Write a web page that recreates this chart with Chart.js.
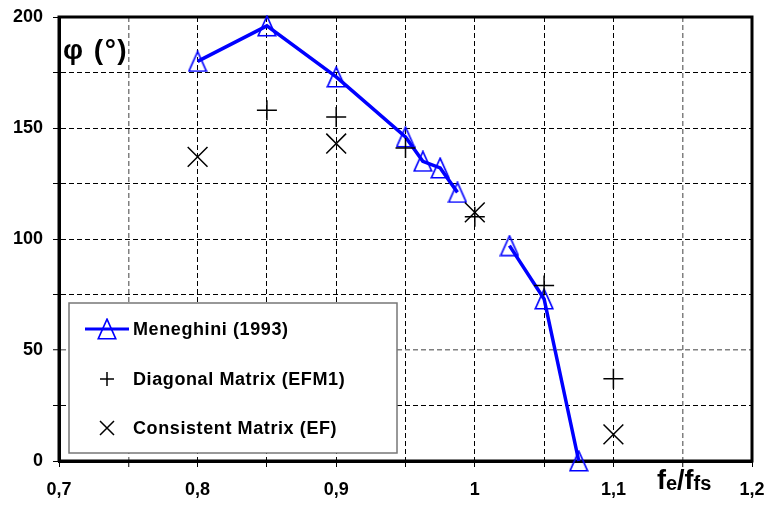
<!DOCTYPE html>
<html>
<head>
<meta charset="utf-8">
<script src="https://cdn.jsdelivr.net/npm/chart.js@4.4.1/dist/chart.umd.min.js"></script>
<style>
  html, body { margin: 0; padding: 0; background: #fff; }
  #wrap { width: 769px; height: 507px; position: relative; }
</style>
</head>
<body>
<div id="wrap"><canvas id="c" width="769" height="507"></canvas></div>
<script>
// ---- data ----
const meneghiniX = [0.8, 0.85, 0.9, 0.95, 0.9625, 0.975, 0.9875, 1.0, 1.025, 1.05, 1.075];
const meneghiniY = [180, 196, 173, 146, 135, 132, 121, null, 97, 73, 0];
const diagonalX = [0.85, 0.9, 0.95, 1.0, 1.05, 1.1];
const diagonalY = [158, 155, 141, 110, 79, 37];
const consistentX = [0.8, 0.9, 1.0, 1.1];
const consistentY = [137, 143, 112, 12];
const xTickLabels = ['0,7', '0,8', '0,9', '1', '1,1', '1,2'];
const yTickLabels = ['0', '50', '100', '150', '200'];
const seriesNames = ['Meneghini (1993)', 'Diagonal Matrix (EFM1)', 'Consistent Matrix (EF)'];

const FONT = '"Liberation Sans", Arial, Helvetica, sans-serif';
const BLUE = '#0000ff';

// triangle marker image
function makeTriangle() {
  const c = document.createElement('canvas');
  c.width = 20; c.height = 22;
  const g = c.getContext('2d');
  g.strokeStyle = BLUE; g.lineWidth = 1.6; g.lineJoin = 'miter';
  g.beginPath();
  g.moveTo(10, 1.2); g.lineTo(18.8, 20.8); g.lineTo(1.2, 20.8); g.closePath();
  g.stroke();
  return c;
}
const tri = makeTriangle();

function pts(xs, ys) { return xs.map((x, i) => ({ x: x, y: ys[i] })); }

const framePlugin = {
  id: 'frame',
  beforeDatasetsDraw(chart) {
    const { ctx, chartArea: a } = chart;
    ctx.save();
    ctx.strokeStyle = '#000'; ctx.lineWidth = 3;
    ctx.beginPath();
    ctx.moveTo(a.left, a.bottom); ctx.lineTo(a.left, a.top); ctx.lineTo(a.right, a.top); ctx.lineTo(a.right, a.bottom); ctx.lineTo(a.left, a.bottom);
    ctx.stroke();
    // axis titles
    ctx.fillStyle = '#000';
    ctx.textBaseline = 'alphabetic';
    ctx.textAlign = 'left';
    ctx.font = 'bold 28px ' + FONT;
    ctx.letterSpacing = '1.5px';
    ctx.fillText('φ (°)', 63, 59);
    ctx.letterSpacing = '0px';
    // fe/ffs
    let x = 657, base = 489;
    ctx.font = 'bold 27px ' + FONT; ctx.fillText('f', x, base); x += ctx.measureText('f').width;
    ctx.font = 'bold 20px ' + FONT; ctx.fillText('e', x, base + 1); x += ctx.measureText('e').width;
    ctx.font = 'bold 27px ' + FONT; ctx.fillText('/', x, base); x += ctx.measureText('/').width;
    ctx.fillText('f', x, base); x += ctx.measureText('f').width;
    ctx.font = 'bold 20px ' + FONT; ctx.fillText('fs', x, base + 1);
    ctx.restore();
  },
  afterDraw(chart) {
    const { ctx } = chart;
    ctx.save();
    // legend box
    const L = 69, T = 303, R = 397, B = 453;
    ctx.fillStyle = '#fff';
    ctx.fillRect(L, T, R - L, B - T);
    ctx.strokeStyle = '#777'; ctx.lineWidth = 1.5;
    ctx.strokeRect(L, T, R - L, B - T);
    const rows = [329, 379, 428];
    // sample 1
    ctx.strokeStyle = BLUE; ctx.lineWidth = 3;
    ctx.beginPath(); ctx.moveTo(85, rows[0]); ctx.lineTo(129, rows[0]); ctx.stroke();
    ctx.drawImage(tri, 107 - tri.width / 2, rows[0] - tri.height / 2);
    // sample 2 plus
    ctx.strokeStyle = '#000'; ctx.lineWidth = 1.5;
    ctx.beginPath();
    ctx.moveTo(100, rows[1]); ctx.lineTo(114, rows[1]);
    ctx.moveTo(107, rows[1] - 7); ctx.lineTo(107, rows[1] + 7);
    ctx.stroke();
    // sample 3 cross
    ctx.beginPath();
    ctx.moveTo(100, rows[2] - 7); ctx.lineTo(114, rows[2] + 7);
    ctx.moveTo(114, rows[2] - 7); ctx.lineTo(100, rows[2] + 7);
    ctx.stroke();
    // texts
    ctx.fillStyle = '#000';
    ctx.font = 'bold 18px ' + FONT;
    ctx.letterSpacing = '0.6px';
    ctx.textBaseline = 'middle'; ctx.textAlign = 'left';
    seriesNames.forEach((n, i) => ctx.fillText(n, 133, rows[i] + 1));
    ctx.letterSpacing = '0px';
    ctx.restore();
  }
};

function isGrayX(v) { return Math.abs(v - 0.75) < 1e-6 || Math.abs(v - 1.15) < 1e-6; }
function isGrayY(v) { return Math.abs(v - 50) < 1e-6; }

Chart.defaults.color = '#000';
Chart.defaults.font.family = FONT;

new Chart(document.getElementById('c'), {
  type: 'scatter',
  data: {
    datasets: [
      {
        label: seriesNames[1],
        data: pts(diagonalX, diagonalY),
        showLine: false,
        pointStyle: 'cross',
        pointRadius: 10,
        pointHoverRadius: 10,
        borderColor: '#000',
        backgroundColor: '#000',
        borderWidth: 1.5,
        clip: false
      },
      {
        label: seriesNames[2],
        data: pts(consistentX, consistentY),
        showLine: false,
        pointStyle: 'crossRot',
        pointRadius: 14,
        pointHoverRadius: 14,
        borderColor: '#000',
        backgroundColor: '#000',
        borderWidth: 1.5,
        clip: false
      },
      {
        label: seriesNames[0],
        data: pts(meneghiniX, meneghiniY),
        showLine: true,
        spanGaps: false,
        borderColor: BLUE,
        backgroundColor: BLUE,
        borderWidth: 3.5,
        pointStyle: tri,
        pointRadius: 10,
        pointBorderWidth: 0,
        tension: 0,
        clip: false
      }
    ]
  },
  options: {
    responsive: false,
    animation: false,
    devicePixelRatio: 1,
    layout: { padding: { left: 0, top: 17, right: 17, bottom: 0 } },
    plugins: { legend: { display: false }, tooltip: { enabled: false } },
    scales: {
      x: {
        type: 'linear',
        min: 0.7, max: 1.2,
        afterFit(s) { s.height = 46; s.paddingLeft = 0; s.paddingRight = 0; },
        ticks: {
          stepSize: 0.05,
          autoSkip: false,
          maxRotation: 0,
          padding: 12,
          font: { size: 18, weight: 'bold', family: FONT },
          color: '#000',
          callback(v) {
            const k = Math.round((v - 0.7) / 0.05);
            return k % 2 === 0 ? xTickLabels[k / 2] : '';
          }
        },
        grid: {
          color: (c) => isGrayX(c.tick.value) ? '#808080' : '#000',
          lineWidth: (c) => isGrayX(c.tick.value) ? 1.5 : 1,
          tickColor: '#000',
          tickLength: 6,
          tickWidth: 1
        },
        border: { display: true, color: '#000', width: 3, dash: [5, 3] }
      },
      y: {
        type: 'linear',
        min: 0, max: 200,
        afterFit(s) { s.width = 59; s.paddingTop = 0; s.paddingBottom = 0; },
        ticks: {
          stepSize: 25,
          autoSkip: false,
          padding: 10,
          font: { size: 18, weight: 'bold', family: FONT },
          color: '#000',
          callback(v) {
            const k = Math.round(v / 25);
            return k % 2 === 0 ? yTickLabels[k / 2] : '';
          }
        },
        grid: {
          color: (c) => isGrayY(c.tick.value) ? '#808080' : '#000',
          lineWidth: (c) => isGrayY(c.tick.value) ? 1.5 : 1,
          tickColor: '#000',
          tickLength: 6,
          tickWidth: 1
        },
        border: { display: true, color: '#000', width: 3, dash: [5, 3] }
      }
    }
  },
  plugins: [framePlugin]
});
</script>
</body>
</html>
